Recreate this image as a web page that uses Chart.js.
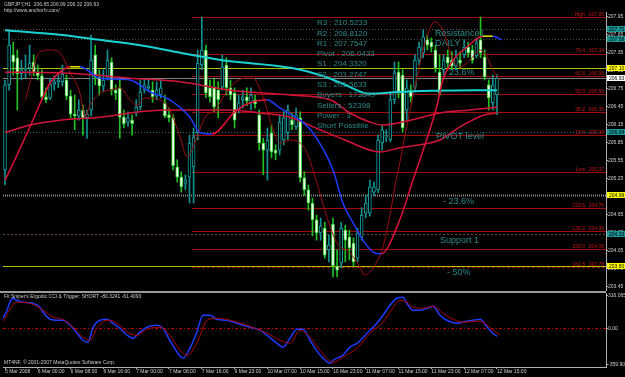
<!DOCTYPE html>
<html>
<head>
<meta charset="utf-8">
<title>GBPJPY,H1</title>
<script src="https://cdn.jsdelivr.net/npm/chart.js@4.4.1/dist/chart.umd.min.js"></script>
<style>
  html, body { margin: 0; padding: 0; background: #000; overflow: hidden; }
  #wrap { position: relative; width: 625px; height: 377px; background: #000; }
  #priceChart { position: absolute; left: 0; top: 0; }
  #cciChart { position: absolute; left: 0; top: 290px; }
</style>
</head>
<body>
<div id="wrap">
  <canvas id="priceChart" width="625" height="293"></canvas>
  <canvas id="cciChart" width="625" height="87"></canvas>
</div>
<script>
// H1 candles, bar 0 = 5 Mar 2008 ... bar 120 = 12 Mar 15:00
const openP = [
  205.40, 206.82, 207.32, 207.27, 207.00, 207.07, 207.10, 207.20, 207.03, 206.97,
  206.62, 206.60, 206.83, 206.87, 206.87, 206.90, 206.63, 206.33, 206.30, 206.40,
  206.27, 206.40, 207.32, 206.95, 206.80, 206.93, 207.20, 206.73, 206.77, 206.28,
  206.20, 206.23, 206.35, 206.45, 206.73, 206.77, 206.73, 206.63, 206.65, 206.52,
  206.32, 206.27, 205.45, 205.28, 205.18, 205.28, 205.45, 206.02, 207.15, 207.40,
  206.77, 206.78, 206.73, 206.78, 207.15, 206.77, 206.68, 206.40, 206.57, 206.62,
  206.52, 206.57, 206.32, 205.85, 205.73, 206.02, 205.73, 205.73, 205.90, 206.02,
  206.23, 206.12, 206.27, 205.27, 205.07, 204.85, 204.57, 204.35, 204.43, 204.07,
  204.50, 203.80, 203.85, 204.40, 204.28, 204.18, 203.93, 204.28, 204.68, 204.68,
  205.03, 205.07, 205.85, 205.95, 205.90, 206.57, 207.03, 206.98, 206.40, 206.73,
  206.78, 207.23, 207.35, 207.57, 207.53, 207.40, 207.03, 207.07, 207.28, 207.23,
  207.13, 207.23, 207.32, 207.45, 207.40, 207.30, 207.57, 207.28, 206.82, 206.52,
  206.65
];
const highP = [
  206.90, 207.73, 207.53, 207.40, 207.23, 207.32, 207.48, 207.32, 207.15, 207.07,
  206.77, 206.93, 206.97, 207.00, 207.15, 206.98, 206.73, 206.65, 206.57, 206.48,
  206.40, 207.65, 207.48, 207.07, 207.07, 207.40, 207.27, 206.82, 206.90, 206.40,
  206.37, 206.32, 206.57, 206.90, 206.93, 206.90, 206.87, 206.87, 206.90, 206.65,
  206.43, 206.32, 205.57, 205.37, 205.32, 205.98, 206.10, 207.40, 207.95, 207.48,
  206.90, 206.93, 206.87, 207.32, 207.27, 206.90, 206.77, 206.65, 206.73, 206.77,
  206.77, 206.65, 206.40, 205.93, 206.10, 206.15, 205.82, 206.32, 206.37, 206.48,
  206.35, 206.43, 206.37, 205.37, 205.15, 204.93, 204.65, 204.60, 204.53, 204.32,
  204.60, 204.07, 204.53, 204.48, 204.40, 204.27, 204.43, 204.77, 204.98, 205.23,
  205.20, 205.98, 206.15, 206.07, 206.70, 207.20, 207.20, 207.07, 206.90, 206.82,
  207.32, 207.53, 207.73, 207.65, 207.60, 207.48, 207.32, 207.32, 207.40, 207.37,
  207.40, 207.37, 207.57, 207.53, 207.48, 207.60, 207.95, 207.40, 206.90, 206.98,
  206.99
];
const lowP = [
  205.15, 206.73, 206.98, 206.40, 206.90, 206.93, 206.98, 206.97, 206.90, 206.57,
  206.52, 206.57, 206.73, 206.77, 206.80, 206.57, 206.27, 206.07, 206.23, 205.98,
  205.93, 206.30, 206.82, 206.65, 206.70, 206.90, 206.65, 206.57, 205.93, 206.10,
  206.13, 205.98, 206.30, 206.40, 206.68, 206.70, 206.53, 206.57, 206.60, 206.27,
  206.20, 205.40, 205.20, 205.03, 205.07, 204.85, 204.85, 205.90, 207.07, 206.60,
  206.53, 206.37, 206.27, 206.73, 206.65, 206.57, 206.10, 206.35, 206.43, 206.47,
  206.40, 206.43, 205.73, 205.32, 205.23, 205.60, 205.57, 205.65, 205.82, 205.90,
  206.07, 206.07, 205.20, 204.98, 204.73, 204.30, 204.23, 204.23, 203.93, 203.87,
  203.62, 203.62, 203.77, 203.87, 203.90, 203.80, 203.87, 204.23, 204.60, 204.63,
  204.97, 205.02, 205.73, 205.87, 205.87, 206.50, 206.60, 206.03, 206.23, 206.53,
  206.70, 207.15, 207.27, 207.40, 207.37, 207.03, 206.63, 206.98, 207.10, 207.07,
  207.07, 207.10, 207.27, 207.28, 207.18, 207.27, 207.27, 206.90, 206.40, 206.40,
  206.32
];
const closeP = [
  206.82, 207.48, 207.20, 207.00, 207.07, 207.10, 207.18, 207.03, 206.97, 206.62,
  206.57, 206.83, 206.87, 206.90, 207.00, 206.63, 206.33, 206.30, 206.40, 206.27,
  206.33, 207.23, 206.95, 206.80, 206.90, 207.23, 206.73, 206.68, 206.28, 206.17,
  206.27, 206.17, 206.45, 206.70, 206.82, 206.80, 206.62, 206.73, 206.77, 206.30,
  206.27, 205.47, 205.28, 205.12, 205.23, 205.85, 205.95, 207.18, 207.40, 206.68,
  206.62, 206.45, 206.57, 207.12, 206.77, 206.65, 206.23, 206.52, 206.62, 206.55,
  206.65, 206.50, 205.85, 205.73, 205.90, 205.70, 205.68, 206.20, 206.27, 206.40,
  206.15, 206.32, 205.27, 205.07, 204.85, 204.57, 204.35, 204.47, 203.98, 204.15,
  203.80, 203.73, 204.43, 204.23, 204.10, 203.87, 204.35, 204.65, 204.85, 205.12,
  205.12, 205.90, 206.07, 205.97, 206.57, 207.02, 206.68, 206.10, 206.77, 206.62,
  207.23, 207.45, 207.62, 207.48, 207.45, 207.10, 206.68, 207.23, 207.18, 207.13,
  207.28, 207.18, 207.45, 207.35, 207.23, 207.52, 207.35, 206.95, 206.60, 206.82,
  206.93
];

// moving averages, read at bar positions
const slowMaIdx = [0, 14, 23, 33, 43, 53, 70, 77, 82, 89, 96, 104, 115, 120];
const slowMaVal = [207.73, 207.65, 207.57, 207.48, 207.35, 207.23, 207.10, 206.98, 206.85, 206.67, 206.70, 206.72, 206.73, 206.73];

const ma100Idx = [0, 13.4, 30.5, 42.7, 54.9, 69.5, 79.3, 84.1, 89, 92.2, 98.8, 106.1, 113.4, 117.6, 120];
const ma100Val = [207.03, 207.02, 206.93, 206.87, 206.73, 206.65, 206.57, 206.35, 206.20, 206.15, 206.23, 206.35, 206.40, 206.43, 206.45];

const ma50Idx = [0, 6.1, 13.4, 23.2, 32.9, 39, 47.6, 54.9, 62.2, 69.5, 76.8, 82.9, 91.5, 96.3, 101.2, 106.1, 111, 117.1, 120];
const ma50Val = [206.02, 206.15, 206.23, 206.28, 206.37, 206.40, 206.40, 206.40, 206.35, 206.28, 206.07, 205.90, 205.70, 205.77, 205.82, 205.90, 206.12, 206.32, 206.35];

const fastMaIdx = [5, 8.5, 11, 13.4, 15.9, 18.3, 19.5, 20.7, 23.2, 25.6, 28, 30.5, 32.2, 34.1, 37.8, 40.2, 42.7, 44.4, 46.3, 48.8,
  51.2, 54.9, 58.5, 60.5, 62.9, 65.4, 67.1, 69.5, 72, 73.7, 76.1, 78.5, 81, 84.1, 86.6, 87.6, 89.8, 92.2, 93.9, 95.1,
  96.3, 98, 100.5, 102.9, 104.9, 106.8, 109.3, 111, 113.4, 115.9, 117.6, 119, 120.7];
const fastMaVal = [206.57, 207.37, 207.40, 207.35, 207.02, 206.68, 206.28, 206.48, 206.68, 206.73, 206.77, 206.57, 206.48, 206.60, 206.57, 206.40, 205.95, 205.62, 205.85, 206.28,
  206.40, 206.78, 206.93, 206.93, 206.62, 206.07, 205.85, 205.90, 205.85, 205.68, 205.18, 204.62, 204.18, 204.02, 203.78, 203.65, 203.77, 204.12, 204.65, 205.12,
  205.52, 206.12, 206.95, 207.62, 207.87, 207.73, 207.23, 207.12, 207.23, 207.40, 207.28, 207.07, 206.90];

const hmaIdx = [0, 2.4, 6.1, 11, 13.4, 15.9, 18.3, 23.2, 30.5, 35.4, 40.2, 45.1, 47.6, 50.5, 56.1, 59.8, 63.9, 67.1,
  72, 75.1, 80, 82.4, 84.9, 87.3, 89.8, 91.7, 96.3, 99.5, 102, 105.4, 106.8, 109.3, 112.7, 116.6, 119, 121.2];
const hmaVal = [205.23, 205.57, 206.12, 206.85, 207.03, 207.12, 207.12, 206.93, 206.90, 206.70, 206.57, 206.28, 206.02, 206.00, 206.37, 206.52, 206.57, 206.43,
  206.23, 206.02, 205.40, 204.85, 204.52, 204.23, 204.03, 204.00, 204.57, 205.23, 205.73, 206.48, 206.90, 207.23, 207.45, 207.63, 207.63, 207.57];

// fibonacci levels and horizontal lines
const fibNames = ["High", "76.4", "61.8", "50.0", "38.2", "23.6", "Low", "123.6", "138.2", "150.0", "161.8"];
const fibVals = [207.95, 207.34, 206.96, 206.66, 206.36, 205.98, 205.37, 204.76, 204.38, 204.08, 203.78];
const fibStartBar = 45.6;
const levelVals = [207.75, 207.58, 207.10, 206.93, 206.04, 204.99, 204.33, 203.80];

const pivotInfo = ["R3 : 210.5233", "R2 : 208.8120", "R1 : 207.7547", "Pivot : 206.0433", "S1 : 204.3320",
  "S2 : 203.2747", "S3 : 201.5633", "Buyers : 173849", "Sellers : 52398", "Power : 3", "Short Possible"];
const chartNotes = ["Resistance1", "DAILY", "23.6%", "PIVOT level", "- 23.6%", "Support 1", "- 50%"];

const priceTicks = [207.95, 207.65, 207.35, 207.05, 206.75, 206.45, 206.15, 205.85, 205.55, 205.25, 204.95, 204.65, 204.35, 204.05, 203.75, 203.45];

// ergodic CCI and trigger
const cciIdx = [-0.5, 0.5, 1.2, 2, 2.9, 4.4, 6.8, 8.5, 9.3, 11, 12.7, 14.1, 15.9, 17.6, 19, 20.2, 21.5, 23.2, 24.9, 26.3,
  28, 29.8, 31.2, 32.9, 34.6, 37, 38.5, 40.2, 42, 43.4, 45.1, 46.8, 48.3, 50, 51.7, 54.1, 56.6, 59.8, 62.2, 63.9,
  66.3, 67.8, 69.5, 71.2, 72.7, 74.4, 76.1, 77.6, 79.3, 80, 82.4, 84.1, 85.9, 88.3, 90.7, 92.2, 93.9, 95.6, 97.1, 98,
  99.5, 101.2, 103.7, 104.4, 106.1, 107.8, 110.2, 112.7, 114.1, 115.9, 117.6, 119, 120];
const cciVal = [98, 176, 255, 294, 274, 255, 245, 206, 157, 88, 78, 78, 29, -49, -118, -137, 10, 78, 88, 49,
  0, -69, -98, -39, 10, 29, 0, -118, -235, -294, -196, -39, 127, 127, 88, 78, 49, 10, -20, -69,
  -147, -186, -98, -10, -10, -118, -225, -294, -343, -314, -265, -186, -147, -49, 49, 127, 225, 294, 304, 245,
  176, 176, 206, 216, 127, 78, 49, 69, 78, 88, 10, -49, -80];
const trigIdx = [-0.5, 2.9, 6.8, 9.3, 11.7, 14.1, 16.6, 19, 20.7, 22.4, 24.9, 27.3, 29.8, 32.2, 34.6, 37.8, 40.2, 42.7, 44.4, 46.8,
  49.3, 51.7, 54.9, 59, 63.9, 67.1, 69.5, 72, 74.4, 76.8, 80, 82.4, 85.9, 89, 92.2, 94.6, 96.3, 98, 99.5, 102,
  104.4, 106.8, 109.3, 111.7, 115.1, 116.6, 119, 120.7];
const trigVal = [69, 255, 235, 176, 108, 88, 10, -88, -118, 0, 78, 49, -39, -69, -10, 10, -69, -216, -265, -147,
  78, 98, 78, 29, -49, -118, -147, -20, -88, -216, -333, -284, -196, -49, 59, 196, 274, 255, 206, 196,
  216, 147, 88, 59, 69, 59, -20, -61];
const cciTicks = [316.065, 0, -359.906];

const dateTickIdx = [0, 8, 16, 24, 32, 40, 48, 56, 64, 72, 80, 88, 96, 104, 112, 120];
const dateLabels = ["5 Mar 2008", "6 Mar 00:00", "6 Mar 08:00", "6 Mar 16:00", "7 Mar 00:00", "7 Mar 08:00",
  "7 Mar 16:00", "9 Mar 23:00", "10 Mar 07:00", "10 Mar 15:00", "10 Mar 23:00", "11 Mar 07:00",
  "11 Mar 15:00", "11 Mar 23:00", "12 Mar 07:00", "12 Mar 15:00"];

Chart.defaults.font.family = "'Liberation Sans', Arial, sans-serif";
Chart.defaults.color = "#d0d0d0";

const X_MIN = -0.49, X_MAX = 146.6;
const SMALL = "5px 'Liberation Sans', Arial, sans-serif";
const TEAL_TEXT = "#2d8a8a";

const pts = (xs, ys) => xs.map((v, k) => ({x: v, y: ys[k]}));
const isBull = openP.map((o, i) => closeP[i] >= o);

const levelLook = [
  {color: "#5a5a5a", width: 1, dash: [1, 2], box: "#1a9696"},
  {color: "#2e5a2e", width: 1, dash: [1, 2], box: "#1a9696"},
  {color: "#a8c000", width: 1, dash: [], box: "#ffff00"},
  {color: "#808080", width: 1, dash: [], box: "#ffffff"},
  {color: "#2a6e6e", width: 1, dash: [1, 2], box: "#1a9696"},
  {color: "#8a8a8a", width: 2, dash: [1, 1], box: "#ffff00"},
  {color: "#6e3c3c", width: 1, dash: [2, 2], box: "#1a9696"},
  {color: "#a8c000", width: 1, dash: [], box: "#ffff00"}
];
const notePos = [[435, 34], [435, 44], [449, 73], [436, 137], [443, 202], [440, 241], [447, 273]];

const priceOverlay = {
  id: "priceOverlay",
  beforeDatasetsDraw(chart) {
    const {ctx, chartArea: a, scales: {x, y}} = chart;
    ctx.save();
    ctx.beginPath();
    ctx.rect(a.left, a.top, a.right - a.left, a.bottom - a.top);
    ctx.clip();
    levelVals.forEach((v, k) => {
      const st = levelLook[k];
      const py = Math.round(y.getPixelForValue(v)) + 0.5;
      ctx.strokeStyle = st.color;
      ctx.lineWidth = st.width;
      ctx.setLineDash(st.dash);
      ctx.beginPath();
      ctx.moveTo(a.left, py);
      ctx.lineTo(a.right, py);
      ctx.stroke();
    });
    const fx = x.getPixelForValue(fibStartBar);
    ctx.strokeStyle = "#a00c0c";
    ctx.lineWidth = 1;
    fibVals.forEach((v, k) => {
      const py = Math.round(y.getPixelForValue(v)) + 0.5;
      ctx.setLineDash(k === fibVals.length - 1 ? [3, 2] : []);
      ctx.beginPath();
      ctx.moveTo(fx, py);
      ctx.lineTo(a.right, py);
      ctx.stroke();
    });
    ctx.restore();
  },
  afterDatasetsDraw(chart) {
    const {ctx, chartArea: a, scales: {y}} = chart;
    ctx.save();
    // fibo labels
    ctx.font = SMALL;
    ctx.fillStyle = "#c81414";
    ctx.textBaseline = "bottom";
    ctx.textAlign = "right";
    fibVals.forEach((v, k) => {
      const py = y.getPixelForValue(v);
      ctx.fillText(fibNames[k], 585, py);
      ctx.fillText(v.toFixed(2), 604, py);
    });
    // pivot info block
    ctx.font = "8px 'Liberation Sans', Arial, sans-serif";
    ctx.fillStyle = TEAL_TEXT;
    ctx.textAlign = "left";
    ctx.textBaseline = "middle";
    pivotInfo.forEach((t, k) => ctx.fillText(t, 317, 23 + k * 10.3));
    ctx.font = "9px 'Liberation Sans', Arial, sans-serif";
    chartNotes.forEach((t, k) => ctx.fillText(t, notePos[k][0], notePos[k][1]));
    // header
    ctx.font = SMALL;
    ctx.fillStyle = "#c8c8c8";
    const last = openP.length - 1;
    ctx.fillText("GBPJPY,H1  " + openP[last].toFixed(2) + " " + highP[last].toFixed(2) + " " +
      lowP[last].toFixed(2) + " " + closeP[last].toFixed(2), 4, 5);
    ctx.fillText("http://www.anchorfx.com/", 4, 11);
    ctx.restore();
  },
  afterDraw(chart) {
    const {ctx, chartArea: a, scales: {y}} = chart;
    ctx.save();
    ctx.font = SMALL;
    ctx.textBaseline = "middle";
    ctx.textAlign = "left";
    levelVals.forEach((v, k) => {
      const py = Math.round(y.getPixelForValue(v));
      ctx.fillStyle = levelLook[k].box;
      ctx.fillRect(a.right + 1, py - 3, 625 - a.right - 1, 6);
      ctx.fillStyle = "#000";
      ctx.fillText(v.toFixed(2), a.right + 3, py + 0.5);
    });
    ctx.restore();
  }
};

const priceChart = new Chart(document.getElementById("priceChart"), {
  type: "bar",
  data: {
    datasets: [
      {
        type: "bar", order: 11, grouped: false, barThickness: 1,
        data: lowP.map((l, i) => ({x: i, y: [l, highP[i]]})),
        backgroundColor: isBull.map(b => b ? "#139191" : "#22c022")
      },
      {
        type: "bar", order: 10, grouped: false, barThickness: 3, minBarLength: 1,
        borderWidth: 1, borderSkipped: false,
        data: openP.map((o, i) => ({x: i, y: [o, closeP[i]]})),
        backgroundColor: isBull.map(b => b ? "#000000" : "#f4fff0"),
        borderColor: isBull.map(b => b ? "#14a3a3" : "#3ad83a")
      },
      {type: "line", order: 4, data: pts(fastMaIdx, fastMaVal), borderColor: "#9a1010", borderWidth: 1},
      {type: "line", order: 3, data: pts(ma50Idx, ma50Val), borderColor: "#d2143a", borderWidth: 1.5},
      {type: "line", order: 2, data: pts(ma100Idx, ma100Val), borderColor: "#d2143a", borderWidth: 1.5},
      {type: "line", order: 1, data: pts(slowMaIdx, slowMaVal), borderColor: "#19d2d2", borderWidth: 2},
      {
        type: "line", order: 0, data: pts(hmaIdx, hmaVal), borderColor: "#e0103a", borderWidth: 1.5,
        segment: {
          borderColor: c => c.p1.parsed.y > c.p0.parsed.y ? "#e0103a"
            : (c.p1.parsed.y < c.p0.parsed.y ? "#1e3cff" : "#e6e600")
        }
      }
    ]
  },
  options: {
    responsive: false,
    animation: false,
    events: [],
    layout: {padding: {left: 3, top: 12, right: 0, bottom: 3}},
    elements: {
      point: {radius: 0},
      line: {cubicInterpolationMode: "monotone", fill: false}
    },
    plugins: {legend: {display: false}, tooltip: {enabled: false}},
    scales: {
      x: {type: "linear", min: X_MIN, max: X_MAX, offset: false, display: false},
      y: {
        position: "right",
        min: 203.40,
        max: 208.033,
        afterBuildTicks: s => { s.ticks = priceTicks.map(v => ({value: v})); },
        afterFit: s => { s.width = 19; },
        ticks: {font: {size: 5}, color: "#d0d0d0", padding: 0, callback: v => v.toFixed(2)},
        grid: {drawOnChartArea: false, color: "#b0b0b0", tickLength: 2},
        border: {color: "#b0b0b0"}
      }
    }
  },
  plugins: [priceOverlay]
});

const cciOverlay = {
  id: "cciOverlay",
  beforeDatasetsDraw(chart) {
    const {ctx, chartArea: a, scales: {y}} = chart;
    ctx.save();
    ctx.strokeStyle = "#9a9a9a";
    ctx.lineWidth = 2;
    ctx.beginPath();
    ctx.moveTo(0, a.top - 1);
    ctx.lineTo(a.right, a.top - 1);
    ctx.stroke();
    const py = Math.round(y.getPixelForValue(0)) + 0.5;
    ctx.strokeStyle = "#c00000";
    ctx.lineWidth = 1;
    ctx.setLineDash([3, 2, 1, 2]);
    ctx.beginPath();
    ctx.moveTo(a.left, py);
    ctx.lineTo(a.right, py);
    ctx.stroke();
    ctx.restore();
  },
  afterDraw(chart) {
    const {ctx, chartArea: a} = chart;
    ctx.save();
    ctx.font = SMALL;
    ctx.fillStyle = "#c8c8c8";
    ctx.textBaseline = "middle";
    ctx.fillText("Fit Sniper's Ergodic CCI & Trigger: SHORT -80.3241 -61.4093", 4, a.top + 4);
    ctx.fillText("MT4NF, \u00a9 2001-2007 MetaQuotes Software Corp.", 4, a.bottom - 4);
    ctx.restore();
  }
};

const cciChart = new Chart(document.getElementById("cciChart"), {
  type: "line",
  data: {
    datasets: [
      {data: pts(trigIdx, trigVal), borderColor: "#b00000", borderWidth: 1},
      {data: pts(cciIdx, cciVal), borderColor: "#1e3cff", borderWidth: 1.5}
    ]
  },
  options: {
    responsive: false,
    animation: false,
    events: [],
    layout: {padding: {left: 3, top: 3, right: 0, bottom: 0}},
    elements: {
      point: {radius: 0},
      line: {cubicInterpolationMode: "monotone", fill: false}
    },
    plugins: {legend: {display: false}, tooltip: {enabled: false}},
    scales: {
      x: {
        type: "linear", min: X_MIN, max: X_MAX, offset: false,
        afterBuildTicks: s => { s.ticks = dateTickIdx.map(v => ({value: v})); },
        afterFit: s => { s.height = 10; },
        ticks: {
          font: {size: 5}, color: "#d0d0d0", padding: 0, align: "start",
          maxRotation: 0, autoSkip: false,
          callback: v => dateLabels[dateTickIdx.indexOf(v)]
        },
        grid: {drawOnChartArea: false, color: "#b0b0b0", tickLength: 2},
        border: {color: "#b0b0b0"}
      },
      y: {
        position: "right",
        min: -380,
        max: 345,
        afterBuildTicks: s => { s.ticks = cciTicks.map(v => ({value: v})); },
        afterFit: s => { s.width = 19; },
        ticks: {font: {size: 5}, color: "#d0d0d0", padding: 0, callback: v => v === 0 ? "0.00" : v.toFixed(3)},
        grid: {drawOnChartArea: false, color: "#b0b0b0", tickLength: 2},
        border: {color: "#b0b0b0"}
      }
    }
  },
  plugins: [cciOverlay]
});
</script>
</body>
</html>
